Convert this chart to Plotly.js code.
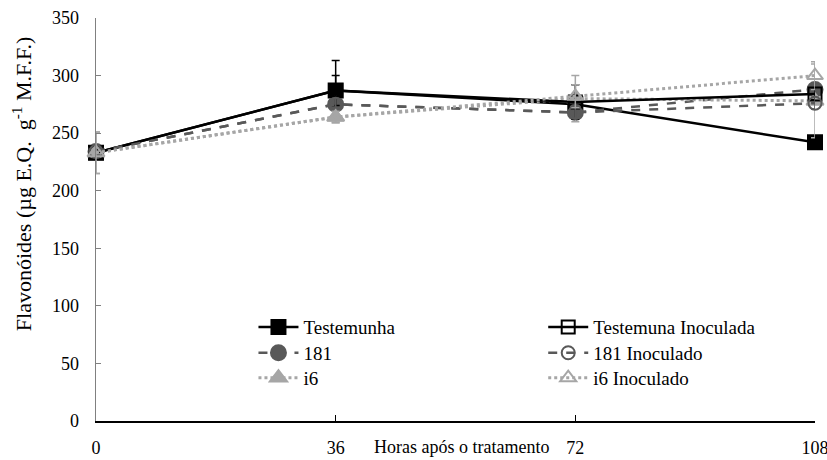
<!DOCTYPE html>
<html><head><meta charset="utf-8">
<script src="https://cdn.plot.ly/plotly-3.0.1.min.js"></script>
<style>html,body{margin:0;padding:0;background:#fff}</style>
</head><body><div id="chart" style="width:827px;height:460px"></div>
<script>
const hours = [0, 36, 72, 108];
const testemunha = [233, 287, 275, 242];
const testemunhaErr = [3, 26, 5, 5];
const testemunhaInoc = [233, 287, 277, 284];
const testemunhaInocErr = [3, 13, 15, 5];
const s181 = [234, 275, 268, 288];
const s181Err = [3, 5, 5, 5];
const s181Inoc = [234, 275, 268, 276];
const s181InocErr = [3, 5, 5, 5];
const i6 = [233, 264, 280, 278];
const i6Err = [18, 5, 20, 32];
const i6Inoc = [233, 264, 282, 300];
const i6InocErr = [18, 5, 10, 12];
const names = ["Testemunha","Testemuna Inoculada","181","181 Inoculado","i6","i6 Inoculado"];

const BLACK = "#000000", DARK = "#595959", LIGHT = "#a6a6a6";
function tr(name, y, err, color, dash, symbol, legend, width, msize){
  return {x: hours, y: y, name: name, type: "scatter", mode: "lines+markers",
    legend: legend, cliponaxis: false,
    line: {color: color, dash: dash, width: width},
    marker: {color: color, symbol: symbol, size: msize, line: {color: color, width: 2}},
    error_y: {type: "data", array: err, visible: true, color: color, thickness: 1.5, width: 4}};
}
const data = [
  tr(names[0], testemunha, testemunhaErr, BLACK, "solid", "square", "legend", 2.5, 14),
  tr(names[2], s181, s181Err, DARK, "dash", "circle", "legend3", 2.5, 15),
  tr(names[4], i6, i6Err, LIGHT, "dot", "triangle-up", "legend5", 3, 15),
  tr(names[1], testemunhaInoc, testemunhaInocErr, BLACK, "solid", "square-open", "legend2", 2.5, 13),
  tr(names[3], s181Inoc, s181InocErr, DARK, "dash", "circle-open", "legend4", 2.5, 13),
  tr(names[5], i6Inoc, i6InocErr, LIGHT, "dot", "triangle-up-open", "legend6", 3, 14)
];
const F = "Liberation Serif";
function leg(x, y){
  return {x: x, y: y, xanchor: "left", yanchor: "middle", bgcolor: "rgba(0,0,0,0)",
    font: {family: F, size: 19, color: "#000"}, itemwidth: 40};
}
const rowsY = [0.233, 0.169, 0.107];
const layout = {
  width: 827, height: 460,
  margin: {l: 96, r: 12, t: 18, b: 39},
  paper_bgcolor: "#fff", plot_bgcolor: "#fff",
  font: {family: F, size: 18, color: "#000"},
  xaxis: {range: [0, 108], tickvals: hours, ticktext: hours.map(String),
    showgrid: false, zeroline: false, showline: true, linecolor: "#000", linewidth: 2,
    ticks: "inside", ticklen: 6, tickcolor: "#000", tickwidth: 1.5, ticklabeloverflow: "allow",
    ticklabelstandoff: 9, tickfont: {family: F, size: 18}},
  yaxis: {range: [0, 350], dtick: 50, showgrid: false, zeroline: false,
    showline: true, linecolor: "#808080", linewidth: 1.5,
    ticks: "inside", ticklen: 5, tickcolor: "#808080",
    ticklabelstandoff: 12, tickfont: {family: F, size: 18}},
  showlegend: true,
  legend: leg(0.219, rowsY[0]),
  legend2: leg(0.622, rowsY[0]),
  legend3: leg(0.219, rowsY[1]),
  legend4: leg(0.622, rowsY[1]),
  legend5: leg(0.219, rowsY[2]),
  legend6: leg(0.622, rowsY[2]),
  annotations: [
    {text: "Horas após o tratamento", xref: "paper", yref: "paper", x: 0.509, y: 0,
     yshift: -26, xanchor: "center", yanchor: "middle", showarrow: false,
     font: {family: F, size: 18}},
    {text: "Flavonóides (µg E.Q.&nbsp; g<sup>-1</sup> M.F.F.)", xref: "paper", yref: "paper",
     x: -0.103, y: 0.59, xanchor: "center", yanchor: "middle", textangle: -90,
     showarrow: false, font: {family: F, size: 22}}
  ]
};
Plotly.newPlot("chart", data, layout, {displayModeBar: false, staticPlot: true});
</script></body></html>
